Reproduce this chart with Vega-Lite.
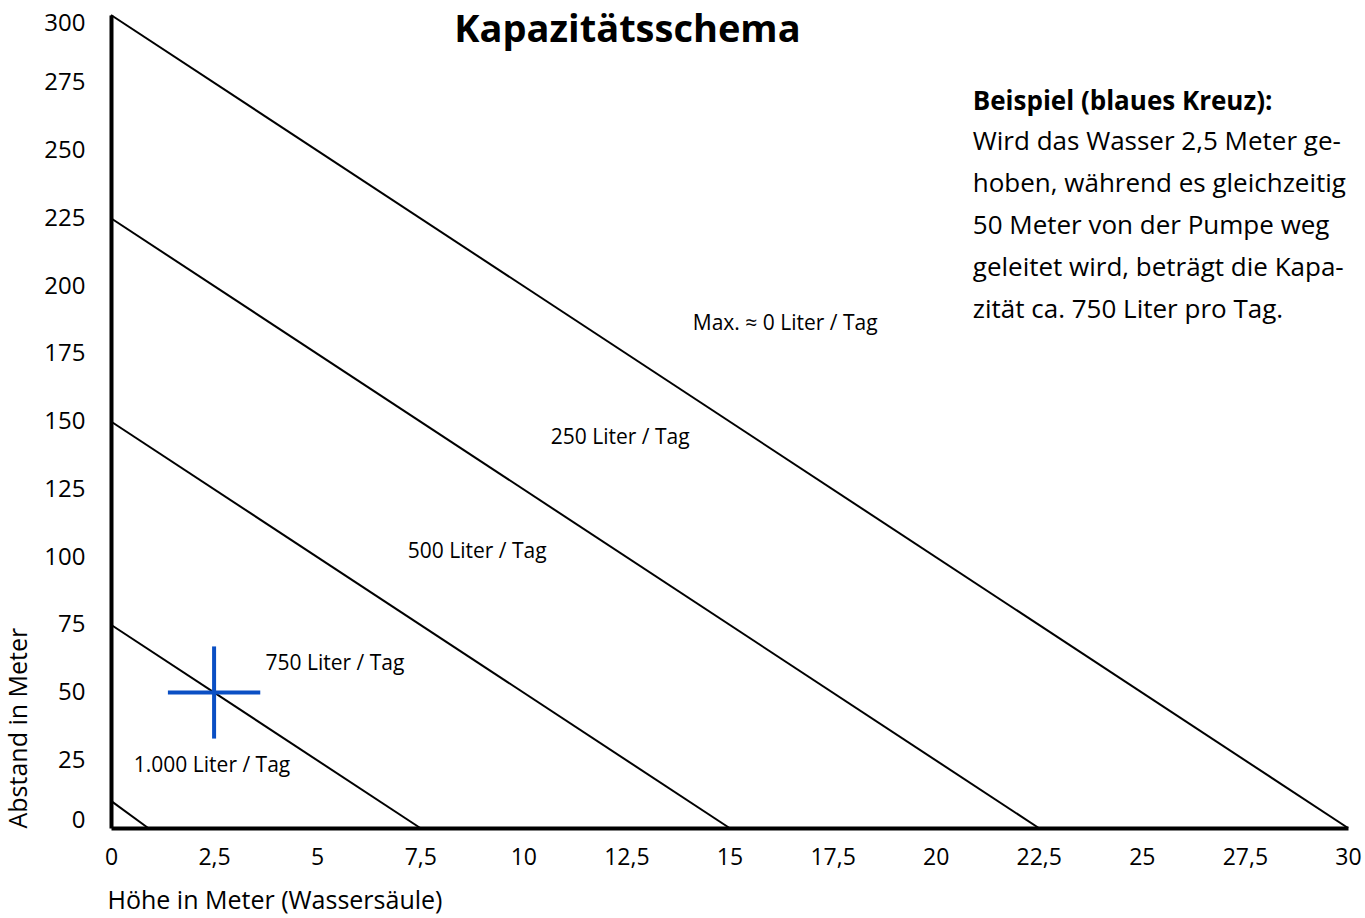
{
  "$schema": "https://vega.github.io/schema/vega-lite/v6.json",
  "autosize": {"type": "none"},
  "padding": {"left": 111, "top": 15, "right": 17, "bottom": 90},
  "width": 1237,
  "height": 813,
  "background": "white",
  "title": {"text": "Kapazitätsschema", "fontSize": 38, "fontWeight": "bold", "font": "Open Sans", "color": "black", "anchor": "middle", "dx": -102, "offset": -39},
  "config": {
    "font": "Open Sans",
    "view": {"stroke": null},
    "axis": {"grid": false, "ticks": false, "domainColor": "black", "domainWidth": 4, "labelColor": "black", "titleColor": "black", "labelFont": "Open Sans", "titleFont": "Open Sans", "titleFontWeight": "normal"}
  },
  "datasets": {
    "lines": [
      {"series": "max", "x": 0, "y": 300}, {"series": "max", "x": 30, "y": 0},
      {"series": "250", "x": 0, "y": 225}, {"series": "250", "x": 22.5, "y": 0},
      {"series": "500", "x": 0, "y": 150}, {"series": "500", "x": 15, "y": 0},
      {"series": "750", "x": 0, "y": 75}, {"series": "750", "x": 7.5, "y": 0},
      {"series": "1000", "x": 0, "y": 10}, {"series": "1000", "x": 0.9, "y": 0}
    ],
    "cross": [
      {"x": 1.38, "x2": 3.62, "y": 50, "y2": 50},
      {"x": 2.5, "x2": 2.5, "y": 33, "y2": 67}
    ],
    "labels": [
      {"x": 16.35, "y": 186, "label": "Max. ≈ 0 Liter / Tag"},
      {"x": 12.35, "y": 144, "label": "250 Liter / Tag"},
      {"x": 8.88, "y": 101.8, "label": "500 Liter / Tag"},
      {"x": 5.43, "y": 60.5, "label": "750 Liter / Tag"},
      {"x": 2.45, "y": 22.9, "label": "1.000 Liter / Tag"}
    ],
    "head": [
      {"x": 20.9, "y": 268, "label": "Beispiel (blaues Kreuz):"}
    ],
    "body": [
      {"x": 20.9, "y": 253, "label": "Wird das Wasser 2,5 Meter ge-"},
      {"x": 20.9, "y": 237.5, "label": "hoben, während es gleichzeitig"},
      {"x": 20.9, "y": 222, "label": "50 Meter von der Pumpe weg"},
      {"x": 20.9, "y": 206.5, "label": "geleitet wird, beträgt die Kapa-"},
      {"x": 20.9, "y": 191, "label": "zität ca. 750 Liter pro Tag."}
    ]
  },
  "layer": [
    {
      "data": {"name": "lines"},
      "mark": {"type": "line", "color": "black", "strokeWidth": 2},
      "encoding": {
        "x": {"field": "x", "type": "quantitative", "scale": {"domain": [0, 30], "nice": false},
          "axis": {"values": [0, 2.5, 5, 7.5, 10, 12.5, 15, 17.5, 20, 22.5, 25, 27.5, 30], "labelExpr": "replace(toString(datum.value), '.', ',')", "labelFontSize": 23, "labelPadding": 18, "title": "Höhe in Meter (Wassersäule)", "titleFontSize": 25, "titleAnchor": "start", "titleAlign": "left", "titleX": -4, "titlePadding": 19, "labelFlush": false}},
        "y": {"field": "y", "type": "quantitative", "scale": {"domain": [0, 300], "nice": false},
          "axis": {"values": [0, 25, 50, 75, 100, 125, 150, 175, 200, 225, 250, 275, 300], "labelFontSize": 24, "labelPadding": 26, "title": "Abstand in Meter", "titleFontSize": 25, "titleAnchor": "start", "titlePadding": 12, "labelFlush": true, "labelFlushOffset": 4}},
        "detail": {"field": "series"}
      }
    },
    {
      "data": {"name": "cross"},
      "mark": {"type": "rule", "color": "#0a4fc4", "strokeWidth": 4},
      "encoding": {
        "x": {"field": "x", "type": "quantitative"},
        "x2": {"field": "x2"},
        "y": {"field": "y", "type": "quantitative"},
        "y2": {"field": "y2"}
      }
    },
    {
      "data": {"name": "labels"},
      "mark": {"type": "text", "fontSize": 21, "color": "black", "align": "center", "baseline": "middle"},
      "encoding": {
        "x": {"field": "x", "type": "quantitative"},
        "y": {"field": "y", "type": "quantitative"},
        "text": {"field": "label"}
      }
    },
    {
      "data": {"name": "head"},
      "mark": {"type": "text", "fontSize": 26, "fontWeight": "bold", "color": "black", "align": "left", "baseline": "middle"},
      "encoding": {
        "x": {"field": "x", "type": "quantitative"},
        "y": {"field": "y", "type": "quantitative"},
        "text": {"field": "label"}
      }
    },
    {
      "data": {"name": "body"},
      "mark": {"type": "text", "fontSize": 26, "color": "black", "align": "left", "baseline": "middle"},
      "encoding": {
        "x": {"field": "x", "type": "quantitative"},
        "y": {"field": "y", "type": "quantitative"},
        "text": {"field": "label"}
      }
    }
  ]
}
